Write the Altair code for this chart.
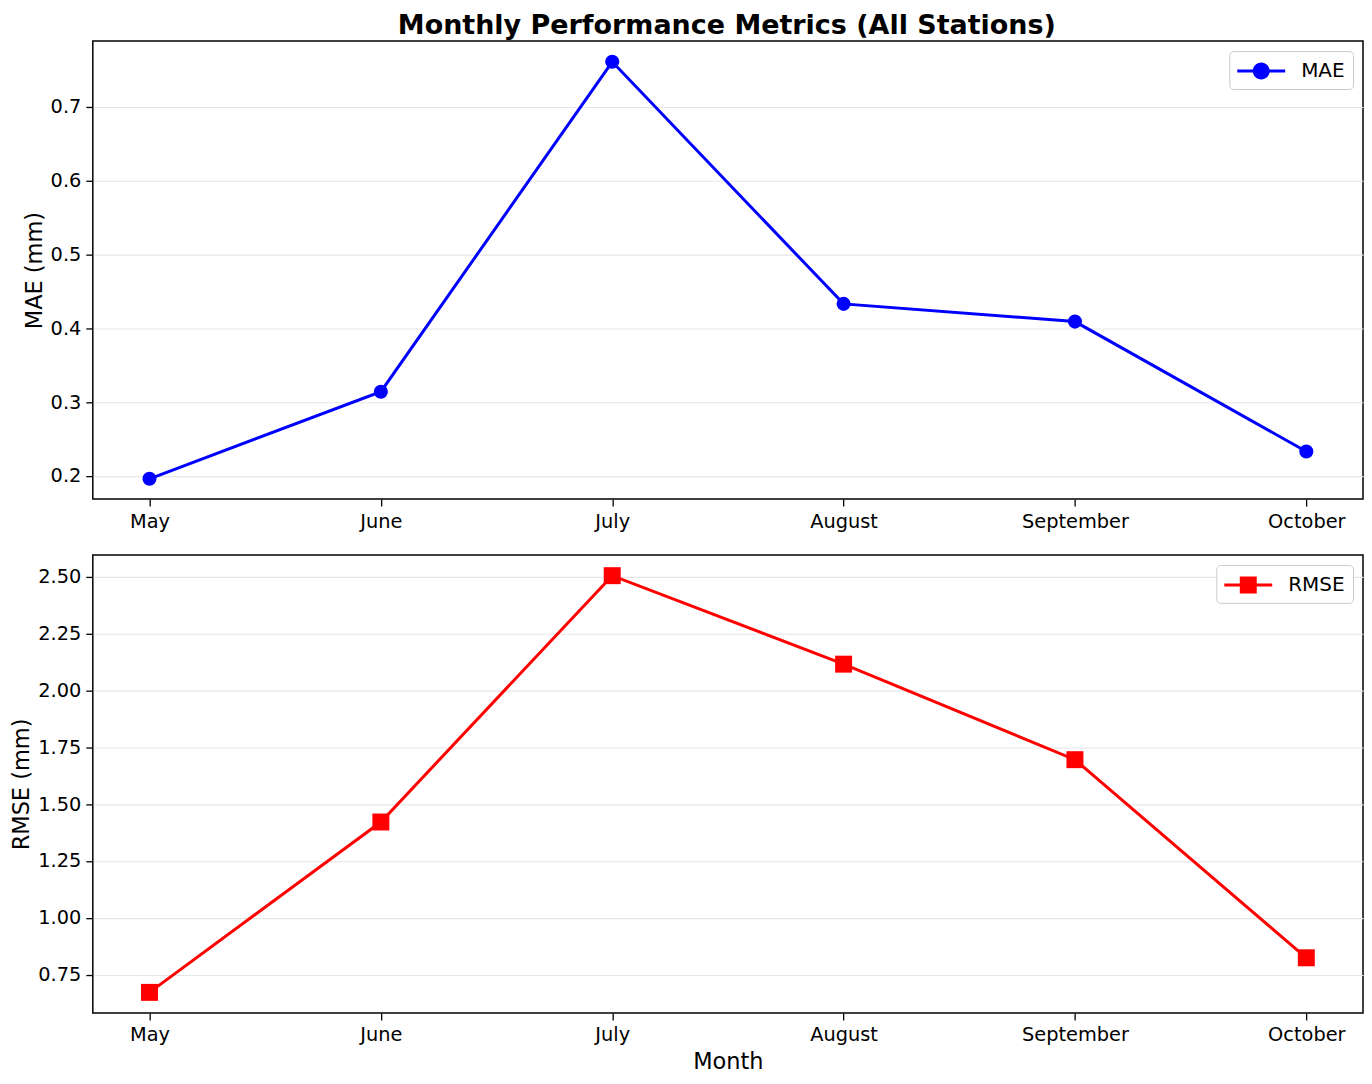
import altair as alt
import pandas as pd

months = ["May", "June", "July", "August", "September", "October"]
mae = [0.196, 0.314, 0.761, 0.433, 0.409, 0.233]
rmse = [0.672, 1.421, 2.504, 2.115, 1.695, 0.824]

mae_df = pd.DataFrame({"month": months, "value": mae, "metric": ["MAE"] * len(months)})
rmse_df = pd.DataFrame({"month": months, "value": rmse, "metric": ["RMSE"] * len(months)})

FONT = "DejaVu Sans"
W, H = 1273, 459

# legend glyph: line with marker (path units = 12px)
circle_path = ("M-1,-0.125H3V0.125H-1Z "
               "M1.708,0A0.708,0.708,0,1,1,0.292,0A0.708,0.708,0,1,1,1.708,0Z")
square_path = ("M-1,-0.125H3V0.125H-1Z "
               "M0.292,-0.708H1.708V0.708H0.292Z")


def panel(df, color, shape, size, ydomain, yvalues, yfmt, ytitle, xtitle, sym_path):
    x = alt.X("month:N", sort=months,
              scale=alt.Scale(type="point", padding=0.245),
              axis=alt.Axis(title=xtitle, labelAngle=0))
    y = alt.Y("value:Q", scale=alt.Scale(domain=ydomain, nice=False, zero=False),
              axis=alt.Axis(title=ytitle, values=yvalues, format=yfmt))
    line = alt.Chart(df).mark_line(strokeWidth=3, color=color).encode(x=x, y=y)
    pts = alt.Chart(df).mark_point(filled=True, shape=shape, size=size, opacity=1).encode(
        x=x, y=y,
        color=alt.Color("metric:N", scale=alt.Scale(domain=[df["metric"][0]], range=[color]),
                        legend=alt.Legend(title=None, orient="top-right", offset=10,
                                          symbolType=sym_path, symbolSize=576,
                                          symbolStrokeWidth=0, symbolFillColor=color,
                                          labelFontSize=20, labelColor="black", labelFont=FONT,
                                          labelOffset=40, padding=8,
                                          fillColor="white", strokeColor="#cccccc",
                                          cornerRadius=4)),
    )
    return alt.layer(line, pts).properties(width=W, height=H)


top = panel(mae_df, "#0000ff", "circle", 200, [0.1685, 0.789],
            [0.2, 0.3, 0.4, 0.5, 0.6, 0.7], ".1f", "MAE (mm)", None, circle_path)
bottom = panel(rmse_df, "#ff0000", "square", 289, [0.5815, 2.595],
               [0.75, 1.0, 1.25, 1.5, 1.75, 2.0, 2.25, 2.5], ".2f", "RMSE (mm)", "Month", square_path)

chart = alt.vconcat(top, bottom, spacing=22).resolve_scale(
    color="independent"
).resolve_legend(
    color="independent"
).properties(
    padding={"left": 2, "top": 3, "right": 0, "bottom": 0},
    title=alt.Title("Monthly Performance Metrics (All Stations)", fontSize=27,
                    fontWeight="bold", font=FONT, color="black", anchor="middle",
                    frame="bounds", dx=40, offset=0)
).configure(
    font=FONT
).configure_view(
    stroke="black", strokeWidth=1.5
).configure_axis(
    labelFont=FONT, titleFont=FONT, labelFontSize=19.4, titleFontSize=22.5,
    labelColor="black", titleColor="black", titleFontWeight="normal",
    domain=False, tickColor="black", tickSize=7, tickWidth=1.3,
    gridColor="#e6e6e6", gridWidth=1.1,
).configure_axisX(
    labelPadding=6, titlePadding=6
).configure_axisY(
    labelPadding=5, titlePadding=4
)

chart.save("out.html", embed_options={"renderer": "svg", "actions": False})
